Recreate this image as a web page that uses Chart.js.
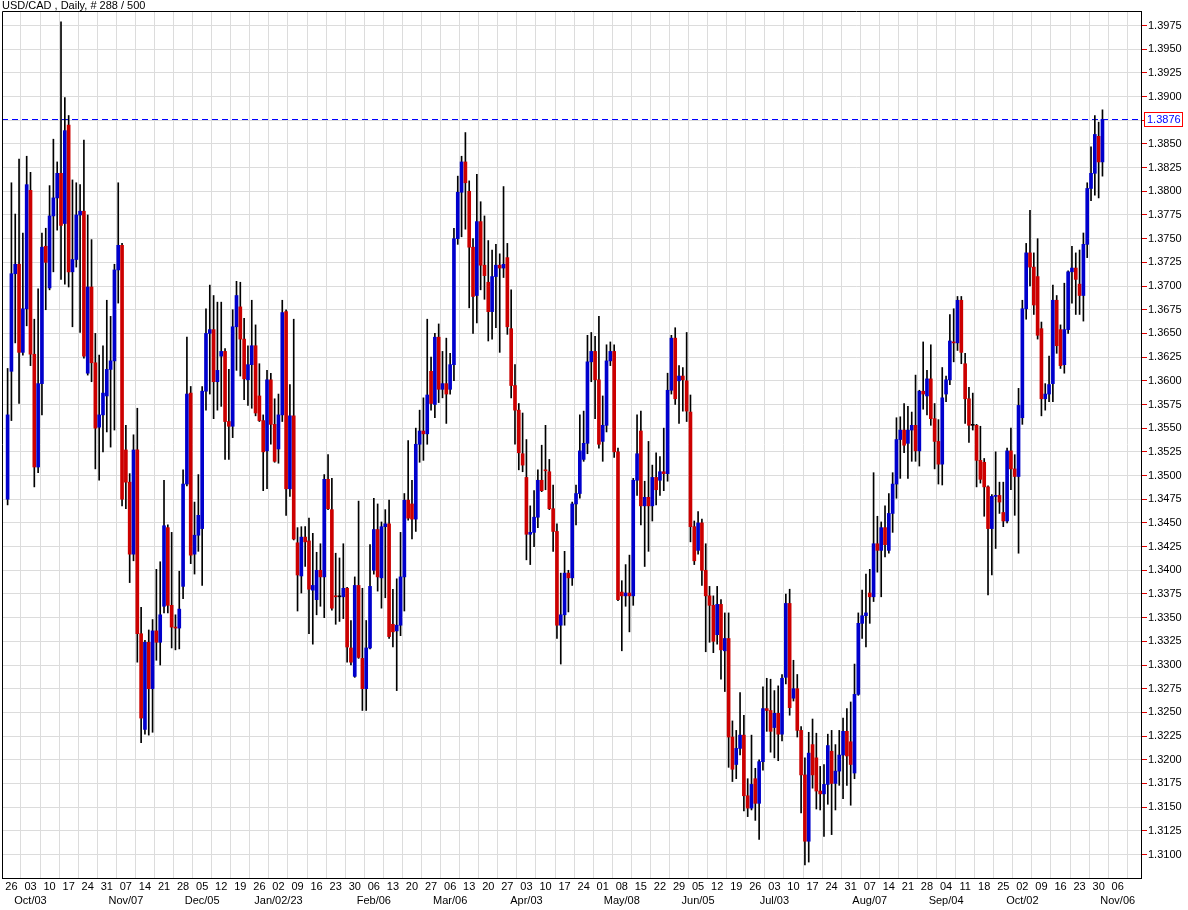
<!DOCTYPE html>
<html>
<head>
<meta charset="utf-8">
<title>USD/CAD Daily</title>
<script src="https://cdn.jsdelivr.net/npm/chart.js@4.4.1/dist/chart.umd.min.js"></script>
<style>
  html, body { margin: 0; padding: 0; background: #fff; }
  #wrap { width: 1188px; height: 910px; }
</style>
</head>
<body>
<div id="wrap"><canvas id="chart" width="1188" height="910"></canvas></div>
<script>
// Daily candles, Sep 23 2022 .. Oct 31 2023 (288 bars)
const openPrices = [
  1.3475,1.3610,1.3713,1.3723,1.3630,1.3676,1.3801,1.3628,1.3509,1.3597,
  1.3742,1.3698,1.3774,1.3793,1.3819,1.3766,1.3870,1.3715,1.3728,1.3775,
  1.3779,1.3608,1.3699,1.3619,1.3551,1.3564,1.3584,1.3612,1.3621,1.3717,
  1.3743,1.3527,1.3493,1.3417,1.3527,1.3333,1.3232,1.3324,1.3275,1.3336,
  1.3324,1.3362,1.3445,1.3363,1.3340,1.3339,1.3383,1.3491,1.3587,1.3417,
  1.3437,1.3444,1.3589,1.3650,1.3654,1.3599,1.3626,1.3631,1.3557,1.3552,
  1.3657,1.3678,1.3644,1.3601,1.3617,1.3637,1.3584,1.3558,1.3526,1.3601,
  1.3554,1.3528,1.3564,1.3673,1.3486,1.3563,1.3429,1.3394,1.3435,1.3431,
  1.3379,1.3369,1.3400,1.3393,1.3496,1.3464,1.3373,1.3372,1.3372,1.3381,
  1.3318,1.3288,1.3384,1.3307,1.3275,1.3318,1.3400,1.3443,1.3392,1.3446,
  1.3449,1.3343,1.3336,1.3342,1.3393,1.3474,1.3470,1.3454,1.3533,1.3547,
  1.3544,1.3610,1.3575,1.3646,1.3591,1.3597,1.3591,1.3617,1.3750,1.3799,
  1.3831,1.3800,1.3741,1.3690,1.3768,1.3722,1.3704,1.3673,1.3710,1.3722,
  1.3719,1.3730,1.3655,1.3595,1.3569,1.3523,1.3498,1.3438,1.3440,1.3456,
  1.3495,1.3506,1.3504,1.3465,1.3441,1.3342,1.3353,1.3397,1.3392,1.3470,
  1.3481,1.3517,1.3534,1.3620,1.3631,1.3601,1.3536,1.3553,1.3621,1.3631,
  1.3525,1.3377,1.3373,1.3376,1.3373,1.3495,1.3547,1.3468,1.3477,1.3468,
  1.3498,1.3495,1.3504,1.3502,1.3590,1.3645,1.3600,1.3605,1.3600,1.3567,
  1.3446,1.3421,1.3450,1.3400,1.3373,1.3363,1.3332,1.3364,1.3315,1.3328,
  1.3224,1.3195,1.3212,1.3226,1.3162,1.3149,1.3180,1.3154,1.3198,1.3254,
  1.3252,1.3234,1.3249,1.3227,1.3287,1.3365,1.3265,1.3275,1.3231,1.3184,
  1.3114,1.3216,1.3202,1.3167,1.3164,1.3174,1.3209,1.3175,1.3188,1.3205,
  1.3230,1.3219,1.3186,1.3269,1.3344,1.3352,1.3376,1.3372,1.3428,1.3421,
  1.3445,1.3421,1.3460,1.3491,1.3538,1.3548,1.3534,1.3548,1.3553,1.3526,
  1.3589,1.3584,1.3602,1.3560,1.3536,1.3512,1.3586,1.3601,1.3641,1.3640,
  1.3685,1.3618,1.3581,1.3553,1.3553,1.3516,1.3514,1.3488,1.3444,1.3478,
  1.3479,1.3461,1.3452,1.3526,1.3507,1.3499,1.3561,1.3676,1.3735,1.3720,
  1.3710,1.3655,1.3581,1.3586,1.3597,1.3685,1.3654,1.3617,1.3654,1.3715,
  1.3719,1.3702,1.3690,1.3744,1.3803,1.3819,1.3858,1.3831
];
const highPrices = [
  1.3613,1.3809,1.3776,1.3834,1.3756,1.3837,1.3820,1.3665,1.3697,1.3756,
  1.3761,1.3806,1.3855,1.3831,1.3979,1.3899,1.3880,1.3812,1.3809,1.3807,
  1.3854,1.3775,1.3749,1.3650,1.3627,1.3637,1.3685,1.3668,1.3723,1.3809,
  1.3745,1.3553,1.3502,1.3543,1.3571,1.3361,1.3326,1.3337,1.3348,1.3401,
  1.3409,1.3495,1.3448,1.3440,1.3353,1.3399,1.3506,1.3646,1.3594,1.3472,
  1.3501,1.3594,1.3676,1.3701,1.3690,1.3683,1.3683,1.3634,1.3612,1.3675,
  1.3705,1.3704,1.3666,1.3637,1.3685,1.3659,1.3618,1.3564,1.3611,1.3608,
  1.3581,1.3586,1.3685,1.3675,1.3596,1.3665,1.3445,1.3446,1.3446,1.3455,
  1.3439,1.3419,1.3428,1.3501,1.3522,1.3497,1.3418,1.3413,1.3428,1.3382,
  1.3347,1.3393,1.3473,1.3381,1.3347,1.3427,1.3476,1.3470,1.3451,1.3464,
  1.3474,1.3380,1.3391,1.3440,1.3481,1.3537,1.3495,1.3550,1.3569,1.3582,
  1.3665,1.3625,1.3650,1.3660,1.3631,1.3645,1.3629,1.3761,1.3816,1.3837,
  1.3862,1.3811,1.3750,1.3818,1.3789,1.3774,1.3748,1.3738,1.3744,1.3734,
  1.3805,1.3745,1.3696,1.3617,1.3576,1.3566,1.3538,1.3468,1.3484,1.3506,
  1.3532,1.3553,1.3517,1.3490,1.3449,1.3397,1.3420,1.3400,1.3472,1.3490,
  1.3564,1.3568,1.3648,1.3651,1.3647,1.3668,1.3584,1.3638,1.3641,1.3638,
  1.3529,1.3389,1.3406,1.3416,1.3497,1.3564,1.3568,1.3494,1.3536,1.3511,
  1.3524,1.3520,1.3550,1.3608,1.3648,1.3656,1.3616,1.3614,1.3651,1.3585,
  1.3452,1.3462,1.3454,1.3428,1.3383,1.3373,1.3383,1.3369,1.3355,1.3355,
  1.3241,1.3231,1.3271,1.3247,1.3180,1.3226,1.3191,1.3200,1.3277,1.3286,
  1.3285,1.3273,1.3278,1.3290,1.3375,1.3380,1.3305,1.3290,1.3235,1.3202,
  1.3229,1.3243,1.3228,1.3193,1.3195,1.3227,1.3231,1.3216,1.3231,1.3244,
  1.3254,1.3261,1.3301,1.3355,1.3379,1.3396,1.3401,1.3503,1.3457,1.3451,
  1.3468,1.3481,1.3503,1.3561,1.3562,1.3576,1.3573,1.3567,1.3606,1.3590,
  1.3641,1.3611,1.3638,1.3576,1.3559,1.3614,1.3605,1.3670,1.3676,1.3689,
  1.3689,1.3629,1.3593,1.3587,1.3554,1.3552,1.3518,1.3489,1.3480,1.3525,
  1.3493,1.3493,1.3529,1.3550,1.3522,1.3592,1.3685,1.3745,1.3780,1.3735,
  1.3750,1.3662,1.3597,1.3626,1.3701,1.3690,1.3659,1.3703,1.3716,1.3742,
  1.3735,1.3738,1.3756,1.3809,1.3847,1.3880,1.3873,1.3886
];
const lowPrices = [
  1.3469,1.3558,1.3640,1.3576,1.3627,1.3658,1.3616,1.3488,1.3503,1.3564,
  1.3675,1.3696,1.3715,1.3759,1.3707,1.3702,1.3699,1.3657,1.3720,1.3651,
  1.3624,1.3606,1.3599,1.3507,1.3495,1.3525,1.3546,1.3530,1.3548,1.3682,
  1.3468,1.3465,1.3387,1.3410,1.3303,1.3218,1.3227,1.3226,1.3229,1.3305,
  1.3300,1.3355,1.3355,1.3318,1.3316,1.3317,1.3370,1.3489,1.3407,1.3396,
  1.3420,1.3384,1.3569,1.3586,1.3560,1.3569,1.3573,1.3517,1.3517,1.3540,
  1.3611,1.3605,1.3580,1.3574,1.3571,1.3563,1.3557,1.3484,1.3486,1.3533,
  1.3514,1.3513,1.3557,1.3458,1.3478,1.3432,1.3357,1.3376,1.3404,1.3333,
  1.3322,1.3353,1.3362,1.3350,1.3464,1.3358,1.3343,1.3346,1.3349,1.3303,
  1.3300,1.3287,1.3307,1.3252,1.3252,1.3317,1.3396,1.3378,1.3360,1.3371,
  1.3328,1.3319,1.3273,1.3331,1.3357,1.3453,1.3433,1.3441,1.3514,1.3516,
  1.3533,1.3569,1.3561,1.3577,1.3582,1.3555,1.3586,1.3600,1.3744,1.3752,
  1.3760,1.3677,1.3650,1.3661,1.3696,1.3686,1.3642,1.3644,1.3656,1.3630,
  1.3709,1.3649,1.3582,1.3533,1.3506,1.3504,1.3411,1.3406,1.3425,1.3445,
  1.3483,1.3485,1.3464,1.3420,1.3328,1.3301,1.3342,1.3356,1.3384,1.3448,
  1.3476,1.3515,1.3523,1.3599,1.3560,1.3529,1.3515,1.3546,1.3616,1.3519,
  1.3368,1.3315,1.3362,1.3335,1.3363,1.3479,1.3448,1.3404,1.3420,1.3452,
  1.3469,1.3479,1.3484,1.3494,1.3586,1.3575,1.3555,1.3568,1.3557,1.3430,
  1.3406,1.3417,1.3384,1.3314,1.3324,1.3313,1.3322,1.3285,1.3272,1.3192,
  1.3177,1.3180,1.3205,1.3146,1.3140,1.3147,1.3136,1.3116,1.3189,1.3230,
  1.3208,1.3202,1.3199,1.3220,1.3280,1.3247,1.3262,1.3224,1.3144,1.3089,
  1.3092,1.3170,1.3148,1.3147,1.3119,1.3153,1.3121,1.3147,1.3173,1.3159,
  1.3173,1.3152,1.3180,1.3268,1.3328,1.3319,1.3344,1.3367,1.3398,1.3372,
  1.3414,1.3418,1.3440,1.3476,1.3497,1.3524,1.3497,1.3515,1.3515,1.3510,
  1.3570,1.3564,1.3553,1.3507,1.3491,1.3490,1.3578,1.3596,1.3620,1.3632,
  1.3618,1.3555,1.3535,1.3548,1.3488,1.3492,1.3457,1.3374,1.3395,1.3423,
  1.3460,1.3446,1.3450,1.3485,1.3458,1.3418,1.3554,1.3665,1.3700,1.3670,
  1.3644,1.3563,1.3569,1.3578,1.3578,1.3629,1.3613,1.3608,1.3650,1.3682,
  1.3670,1.3670,1.3663,1.3730,1.3790,1.3796,1.3793,1.3816
];
const closePrices = [
  1.3564,1.3713,1.3723,1.3630,1.3676,1.3807,1.3628,1.3509,1.3597,1.3741,
  1.3725,1.3774,1.3793,1.3819,1.3764,1.3864,1.3715,1.3728,1.3775,1.3779,
  1.3626,1.3699,1.3619,1.3550,1.3564,1.3587,1.3612,1.3621,1.3717,1.3743,
  1.3475,1.3493,1.3417,1.3527,1.3333,1.3244,1.3324,1.3275,1.3336,1.3324,
  1.3353,1.3447,1.3363,1.3340,1.3339,1.3359,1.3491,1.3586,1.3416,1.3437,
  1.3458,1.3589,1.3650,1.3654,1.3599,1.3611,1.3631,1.3557,1.3552,1.3657,
  1.3690,1.3644,1.3602,1.3617,1.3637,1.3566,1.3558,1.3525,1.3601,1.3554,
  1.3515,1.3564,1.3672,1.3486,1.3563,1.3433,1.3395,1.3435,1.3430,1.3380,
  1.3384,1.3400,1.3393,1.3496,1.3465,1.3360,1.3372,1.3372,1.3381,1.3319,
  1.3303,1.3384,1.3308,1.3275,1.3318,1.3383,1.3443,1.3393,1.3446,1.3449,
  1.3330,1.3335,1.3342,1.3393,1.3474,1.3455,1.3454,1.3533,1.3547,1.3544,
  1.3585,1.3576,1.3646,1.3591,1.3597,1.3586,1.3617,1.3750,1.3799,1.3831,
  1.3809,1.3741,1.3689,1.3768,1.3722,1.3711,1.3673,1.3710,1.3722,1.3719,
  1.3723,1.3657,1.3595,1.3569,1.3524,1.3511,1.3438,1.3440,1.3456,1.3495,
  1.3484,1.3505,1.3465,1.3441,1.3342,1.3353,1.3397,1.3392,1.3470,1.3481,
  1.3526,1.3534,1.3620,1.3631,1.3601,1.3533,1.3553,1.3621,1.3631,1.3525,
  1.3369,1.3373,1.3376,1.3373,1.3495,1.3523,1.3468,1.3477,1.3468,1.3498,
  1.3485,1.3504,1.3502,1.3590,1.3645,1.3581,1.3605,1.3601,1.3568,1.3446,
  1.3410,1.3450,1.3400,1.3373,1.3363,1.3325,1.3364,1.3316,1.3328,1.3224,
  1.3190,1.3212,1.3226,1.3162,1.3149,1.3174,1.3154,1.3198,1.3254,1.3252,
  1.3230,1.3249,1.3227,1.3286,1.3365,1.3255,1.3275,1.3231,1.3184,1.3114,
  1.3207,1.3184,1.3167,1.3164,1.3174,1.3215,1.3175,1.3188,1.3205,1.3230,
  1.3204,1.3195,1.3269,1.3344,1.3352,1.3355,1.3372,1.3428,1.3421,1.3445,
  1.3427,1.3460,1.3491,1.3538,1.3548,1.3532,1.3548,1.3553,1.3526,1.3589,
  1.3586,1.3602,1.3560,1.3536,1.3512,1.3582,1.3601,1.3642,1.3640,1.3685,
  1.3630,1.3581,1.3553,1.3553,1.3516,1.3496,1.3488,1.3444,1.3478,1.3479,
  1.3472,1.3452,1.3526,1.3507,1.3499,1.3574,1.3676,1.3735,1.3720,1.3680,
  1.3648,1.3581,1.3586,1.3596,1.3685,1.3637,1.3616,1.3654,1.3715,1.3719,
  1.3707,1.3690,1.3744,1.3803,1.3819,1.3860,1.3831,1.3876
];

// Monday tick labels (one per week) and month captions under them
const weekDays = ['26','03','10','17','24','31','07','14','21','28','05','12','19','26','02','09','16','23','30',
  '06','13','20','27','06','13','20','27','03','10','17','24','01','08','15','22','29','05','12','19','26',
  '03','10','17','24','31','07','14','21','28','04','11','18','25','02','09','16','23','30','06'];
const monthLabels = ['','Oct/03','','','','','Nov/07','','','','Dec/05','','','','Jan/02/23','','','','',
  'Feb/06','','','','Mar/06','','','','Apr/03','','','','','May/08','','','','Jun/05','','','',
  'Jul/03','','','','','Aug/07','','','','Sep/04','','','','Oct/02','','','','','Nov/06'];
const priceLevels = [1.3100,1.3125,1.3150,1.3175,1.3200,1.3225,1.3250,1.3275,1.3300,1.3325,1.3350,1.3375,
  1.3400,1.3425,1.3450,1.3475,1.3500,1.3525,1.3550,1.3575,1.3600,1.3625,1.3650,1.3675,
  1.3700,1.3725,1.3750,1.3775,1.3800,1.3825,1.3850,1.3875,1.3900,1.3925,1.3950,1.3975];
const chartTitle = 'USD/CAD , Daily, # 288 / 500';

const upColor = 'rgb(0,0,204)';
const downColor = 'rgb(204,0,0)';
const gridColor = '#dcdcdc';
const fontFamily = '"Liberation Sans", Arial, sans-serif';

// first bar is a Friday, then 5 bars per week
const mondayIndex = weekDays.map((d, w) => 1 + 5 * w);

const wickData = highPrices.map((h, i) => ({ x: i, y: [lowPrices[i], h] }));
const bodyData = openPrices.map((o, i) => ({ x: i, y: [o, closePrices[i]] }));
const bodyColors = openPrices.map((o, i) => {
  if (closePrices[i] > o) return upColor;
  if (closePrices[i] < o) return downColor;
  return '#000';
});

// frame, title, last price line and label
const decorations = {
  id: 'decorations',
  beforeDatasetsDraw(chart) {
    const { ctx, chartArea: a, scales } = chart;
    const y = Math.round(scales.y.getPixelForValue(closePrices[closePrices.length - 1])) + 0.5;
    ctx.save();
    ctx.strokeStyle = '#0000ff';
    ctx.lineWidth = 1;
    ctx.setLineDash([6, 4]);
    ctx.beginPath();
    ctx.moveTo(a.left, y);
    ctx.lineTo(a.right, y);
    ctx.stroke();
    ctx.restore();
  },
  afterDraw(chart) {
    const { ctx, chartArea: a, scales } = chart;
    ctx.save();
    ctx.strokeStyle = '#000';
    ctx.lineWidth = 1;
    ctx.beginPath();
    ctx.moveTo(a.left + 0.5, a.bottom);
    ctx.lineTo(a.left + 0.5, a.top + 0.5);
    ctx.lineTo(a.right, a.top + 0.5);
    ctx.stroke();

    ctx.fillStyle = '#000';
    ctx.font = '11px ' + fontFamily;
    ctx.textBaseline = 'alphabetic';
    ctx.textAlign = 'left';
    ctx.fillText(chartTitle, 2, 9);

    const last = closePrices[closePrices.length - 1];
    const y = Math.round(scales.y.getPixelForValue(last));
    ctx.fillStyle = '#fff';
    ctx.fillRect(a.right + 3, y - 7, 39, 14);
    ctx.strokeStyle = '#ff0000';
    ctx.strokeRect(a.right + 3.5, y - 6.5, 38, 14);
    ctx.fillStyle = '#0000ff';
    ctx.textBaseline = 'middle';
    ctx.fillText(last.toFixed(4), a.right + 6, y + 0.5);
    ctx.restore();
  }
};

new Chart(document.getElementById('chart'), {
  type: 'bar',
  data: {
    datasets: [
      { label: 'Body', data: bodyData, backgroundColor: bodyColors, barThickness: 3,
        grouped: false, minBarLength: 1, borderWidth: 0, order: 1 },
      { label: 'Range', data: wickData, backgroundColor: '#000', barThickness: 1,
        grouped: false, borderWidth: 0, order: 2 }
    ]
  },
  options: {
    responsive: false,
    animation: false,
    layout: { padding: { left: 2, top: 11, right: 0, bottom: 0 } },
    plugins: { legend: { display: false }, tooltip: { enabled: false }, title: { display: false } },
    scales: {
      x: {
        type: 'linear',
        min: -1.47,
        max: 297.1,
        offset: false,
        afterBuildTicks: s => { s.ticks = mondayIndex.map(v => ({ value: v })); },
        afterFit: s => { s.height = 32; },
        grid: { color: gridColor, drawTicks: false },
        border: { color: '#000' },
        ticks: {
          autoSkip: false, maxRotation: 0, padding: 1, color: '#000',
          font: { family: fontFamily, size: 11, lineHeight: 1.36 },
          callback: (v, i) => monthLabels[i] ? [weekDays[i], monthLabels[i]] : weekDays[i]
        }
      },
      y: {
        position: 'right',
        min: 1.30752,
        max: 1.39903,
        afterBuildTicks: s => { s.ticks = priceLevels.map(v => ({ value: v })); },
        afterFit: s => { s.width = 47; },
        grid: { color: gridColor, tickColor: '#e00000', tickLength: 6 },
        border: { color: '#000' },
        ticks: {
          color: '#000', padding: 1,
          font: { family: fontFamily, size: 11 },
          callback: v => v.toFixed(4)
        }
      }
    }
  },
  plugins: [decorations]
});
</script>
</body>
</html>
